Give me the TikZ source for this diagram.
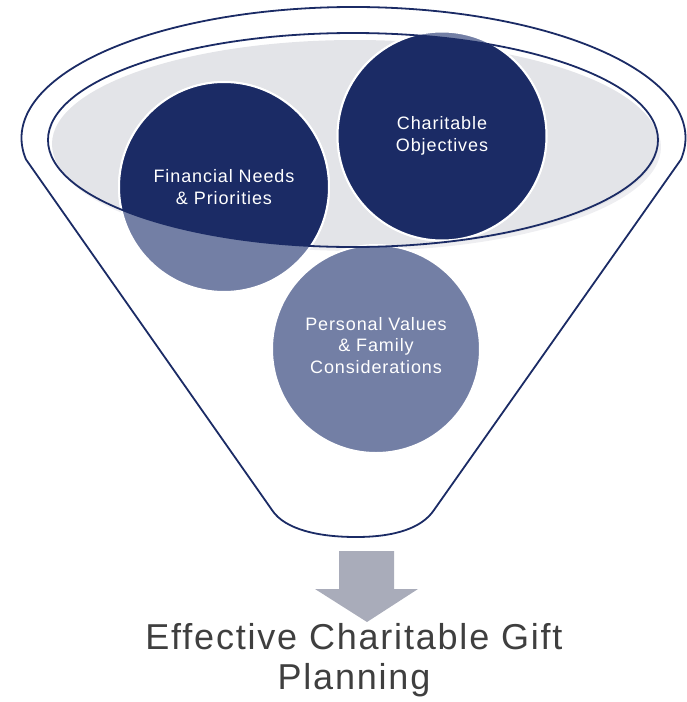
\documentclass[tikz,border=0pt]{standalone}
\usepackage{fontspec}
\setmainfont{Liberation Sans}
\newfontfamily\circfont[LetterSpace=5]{Liberation Sans}
\newfontfamily\titlefont[LetterSpace=5]{Liberation Sans}
\definecolor{navy}{HTML}{1B2B65}
\definecolor{lightnavy}{HTML}{737FA5}
\definecolor{funnelgray}{HTML}{E3E4E8}
\definecolor{shadowgray}{HTML}{EEEEF1}
\definecolor{arrowgray}{HTML}{A9ACBA}
\definecolor{titlegray}{HTML}{3F3F3F}
\begin{document}
\begin{tikzpicture}[x=1pt,y=-1pt,
  outline/.style={draw=navy,line width=1.8pt},
  ballight/.style={fill=lightnavy,draw=white,line width=2pt},
  baldark/.style={fill=navy,draw=white,line width=2pt},
  balltext/.style={text=white,align=center,inner sep=0pt,font=\circfont\fontsize{18}{21.5}\selectfont},
  titletext/.style={text=titlegray,align=center,inner sep=0pt,font=\titlefont\fontsize{36}{40}\selectfont}]
\useasboundingbox (0,0) rectangle (687,702);
% funnel outline
\draw[outline,line join=round] (26.1,159.6) -- (272,510)
  .. controls (285,530) and (320,537) .. (356,537)
  .. controls (395,537) and (422,528) .. (434,510)
  -- (680.9,159.6) arc[start angle=9.5, end angle=-189.5, x radius=332, y radius=131] -- cycle;
% gray mouth
\fill[shadowgray] (357,147) ellipse[x radius=304, y radius=104];
\fill[funnelgray] (355,144) ellipse[x radius=303, y radius=104];
% circles, light parts
\path[ballight] (224,187) circle[radius=105];
\path[ballight] (442,136) circle[radius=104.5];
\path[ballight] (376,349) circle[radius=104];
% dark parts inside the mouth
\begin{scope}
  \clip (353,140) ellipse[x radius=305, y radius=107];
  \path[baldark] (224,187) circle[radius=105];
  \path[baldark] (442,136) circle[radius=104.5];
\end{scope}
% mouth outline
\draw[outline] (353,140) ellipse[x radius=305, y radius=107];
% texts
\node[balltext] (fin) at (224,187) {Financial Needs\\\& Priorities};
\node[balltext] (cha) at (442,136) {Charitable\\Objectives};
\node[balltext] (per) at (376,345.5) {Personal Values\\\& Family\\Considerations};
% arrow
\fill[arrowgray] (339,551) -- (394,551) -- (394,589) -- (418,589) -- (367,622) -- (315,589) -- (339,589) -- cycle;
\node[titletext] (title) at (354,660.6) {Effective Charitable Gift\\Planning};
\end{tikzpicture}
\end{document}
